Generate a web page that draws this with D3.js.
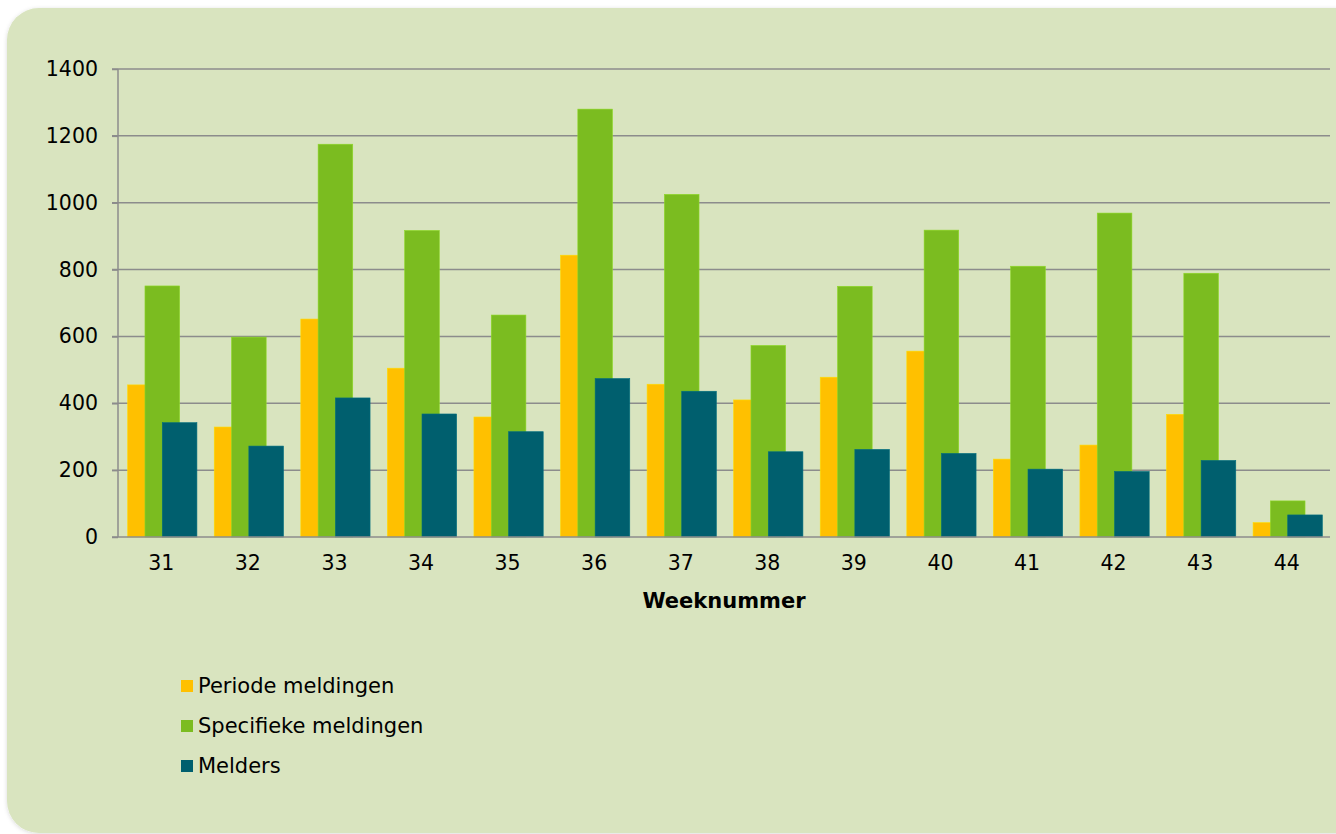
<!DOCTYPE html>
<html>
<head>
<meta charset="utf-8">
<script src="https://cdn.jsdelivr.net/npm/d3@7"></script>
<style>
  body { margin: 0; background: #fff; }
  svg { display: block; font-family: "DejaVu Sans", Verdana, sans-serif; }
</style>
</head>
<body>
<div id="chart"></div>
<script>
const weeks = ["31","32","33","34","35","36","37","38","39","40","41","42","43","44"];
const periodeMeldingen = [455, 329, 652, 505, 359, 843, 457, 410, 478, 556, 233, 275, 367, 43];
const specifiekeMeldingen = [751, 598, 1175, 917, 664, 1280, 1025, 573, 750, 918, 810, 969, 789, 108];
const melders = [342, 272, 416, 368, 315, 474, 436, 255, 262, 250, 203, 196, 229, 66];
const seriesNames = ["Periode meldingen", "Specifieke meldingen", "Melders"];
const seriesColors = ["#ffc000", "#7bbc20", "#005f6e"];
const yTicks = [0, 200, 400, 600, 800, 1000, 1200, 1400];

const W = 1336, H = 834;
const margin = {top: 69, right: 6, bottom: 297, left: 118};
const width = W - margin.left - margin.right;
const height = H - margin.top - margin.bottom;

const svg = d3.select("#chart").append("svg")
    .attr("width", W)
    .attr("height", H);

// panel with shadow
const defs = svg.append("defs");
const f = defs.append("filter").attr("id", "shadow").attr("x", "-5%").attr("y", "-5%").attr("width", "110%").attr("height", "110%");
f.append("feDropShadow").attr("dx", 0).attr("dy", 1).attr("stdDeviation", 2).attr("flood-color", "#000").attr("flood-opacity", 0.15);

svg.append("rect")
    .attr("x", 7).attr("y", 8)
    .attr("width", W + 40).attr("height", H - 9)
    .attr("rx", 32).attr("ry", 32)
    .attr("fill", "#d9e4bf")
    .attr("filter", "url(#shadow)");

const g = svg.append("g")
    .attr("transform", `translate(${margin.left},${margin.top})`);

const x = d3.scaleBand()
    .domain(weeks)
    .range([0, width]);

const y = d3.scaleLinear()
    .domain([0, 1400])
    .range([height, 0]);

// gridlines
g.append("g")
    .selectAll("line")
    .data(yTicks.slice(1))
    .join("line")
    .attr("x1", -6).attr("x2", width)
    .attr("y1", d => y(d)).attr("y2", d => y(d))
    .attr("stroke", "#8c8c8c")
    .attr("stroke-width", 1.5);

const data = [periodeMeldingen, specifiekeMeldingen, melders];
const barW = x.bandwidth() * 0.4;
const step = x.bandwidth() * 0.2;

data.forEach((vals, si) => {
    g.append("g")
        .selectAll("rect")
        .data(vals)
        .join("rect")
        .attr("x", (d, i) => x(weeks[i]) + x.bandwidth() * 0.1 + 1 + si * step)
        .attr("y", d => y(d))
        .attr("width", barW)
        .attr("height", d => y(0) - y(d))
        .attr("fill", seriesColors[si])
        .attr("stroke", d3.color(seriesColors[si]).brighter(0.4))
        .attr("stroke-width", 0.6);
});

// y axis
const yAxis = d3.axisLeft(y).tickValues(yTicks).tickFormat(d3.format("d")).tickSize(6).tickPadding(14);
const yAxisG = g.append("g").call(yAxis);
yAxisG.select(".domain").attr("stroke", "#8c8c8c").attr("stroke-width", 1.5).attr("d", `M0,${height}V0`);
yAxisG.selectAll(".tick line").attr("stroke", "#8c8c8c").attr("stroke-width", 1.5);
yAxisG.selectAll("text").attr("font-size", 20.5).attr("fill", "#000").attr("font-family", "DejaVu Sans");

// x axis
const xAxis = d3.axisBottom(x).tickSize(0).tickPadding(18);
const xAxisG = g.append("g")
    .attr("transform", `translate(0,${height})`)
    .call(xAxis);
xAxisG.select(".domain").attr("stroke", "#8c8c8c").attr("stroke-width", 1.5).attr("d", `M-6,0H${width}`);
xAxisG.selectAll("text").attr("font-size", 20.5).attr("fill", "#000").attr("font-family", "DejaVu Sans");

g.append("text")
    .attr("x", width / 2)
    .attr("y", height + 71)
    .attr("text-anchor", "middle")
    .attr("font-weight", "bold")
    .attr("font-size", 21)
    .text("Weeknummer");

// legend
const legend = svg.append("g").attr("transform", "translate(181,686)");
const item = legend.selectAll("g")
    .data(seriesNames)
    .join("g")
    .attr("transform", (d, i) => `translate(0,${i * 40})`);
item.append("rect")
    .attr("x", 0).attr("y", -6)
    .attr("width", 12).attr("height", 12)
    .attr("fill", (d, i) => seriesColors[i]);
item.append("text")
    .attr("x", 17)
    .attr("dy", "0.35em")
    .attr("font-size", 21)
    .text(d => d);
</script>
</body>
</html>
